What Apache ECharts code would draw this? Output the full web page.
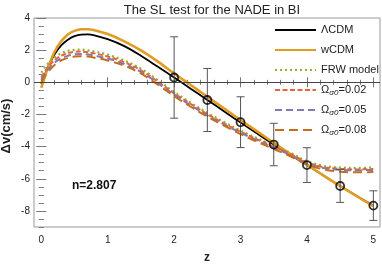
<!DOCTYPE html>
<html><head><meta charset="utf-8">
<script src="https://cdn.jsdelivr.net/npm/echarts@6/dist/echarts.min.js"></script>
<style>html,body{margin:0;padding:0;background:#fff}#c{width:382px;height:269px}</style>
</head><body><div id="c"></div>
<script>
const zCurve = [0, 0.05, 0.1, 0.2, 0.3, 0.4, 0.5, 0.6, 0.7, 0.8, 1.0, 1.25, 1.5, 1.75, 2.0, 2.25, 2.5, 2.75, 3.0, 3.25, 3.5, 3.75, 4.0, 4.25, 4.5, 4.75, 5.0];
const lcdm = [-0.1, 0.45, 0.95, 1.75, 2.3, 2.65, 2.87, 2.97, 2.98, 2.92, 2.68, 2.25, 1.65, 0.98, 0.3, -0.4, -1.1, -1.8, -2.5, -3.18, -3.87, -4.52, -5.15, -5.8, -6.45, -7.07, -7.67];
const wcdm = [-0.35, 0.3, 0.9, 1.9, 2.55, 2.98, 3.2, 3.3, 3.3, 3.24, 3.0, 2.55, 1.98, 1.3, 0.55, -0.17, -0.9, -1.62, -2.35, -3.05, -3.77, -4.46, -5.12, -5.8, -6.45, -7.08, -7.7];
const frw = [0.6, 0.9, 1.15, 1.55, 1.8, 1.96, 2.02, 2.03, 1.99, 1.92, 1.72, 1.36, 0.85, 0.15, -0.6, -1.27, -1.9, -2.47, -3.0, -3.48, -3.93, -4.38, -4.9, -5.2, -5.3, -5.33, -5.3];
const om002 = [0.3, 0.65, 0.95, 1.38, 1.65, 1.82, 1.9, 1.91, 1.87, 1.8, 1.6, 1.25, 0.75, 0.05, -0.68, -1.35, -1.98, -2.55, -3.07, -3.55, -4.0, -4.45, -4.97, -5.28, -5.38, -5.42, -5.4];
const om005 = [0.15, 0.5, 0.8, 1.22, 1.5, 1.65, 1.74, 1.76, 1.73, 1.66, 1.48, 1.14, 0.65, -0.04, -0.77, -1.44, -2.06, -2.62, -3.14, -3.62, -4.07, -4.52, -5.02, -5.33, -5.44, -5.47, -5.45];
const om008 = [0.0, 0.35, 0.65, 1.08, 1.36, 1.52, 1.6, 1.62, 1.6, 1.53, 1.36, 1.03, 0.55, -0.13, -0.86, -1.52, -2.14, -2.7, -3.22, -3.7, -4.15, -4.6, -5.1, -5.42, -5.56, -5.6, -5.58];
const zData = [2, 2.5, 3, 3.5, 4, 4.5, 5];
const dvData = [0.3, -1.1, -2.48, -3.87, -5.15, -6.45, -7.67];
const errData = [2.53, 1.96, 1.58, 1.32, 1.08, 1.02, 0.92];
const xMajor = [0, 1, 2, 3, 4, 5];
const yMajor = [-8, -6, -4, -2, 0, 2, 4];
const xMinor = []; for (let i = 0; i <= 25; i++) xMinor.push(+(i * 0.2).toFixed(2));
const yMinor = []; for (let i = 0; i <= 26; i++) yMinor.push(-9 + i * 0.5);
const FONT = '"Liberation Sans", Arial, sans-serif';

const pair = (ys) => zCurve.map((z, i) => [z, ys[i]]);
const XMIN = -0.11, XMAX = 5.1, YMIN = -9, YMAX = 4;

function xAx(pos, vals, len, labels) {
  return { type: 'value', min: XMIN, max: XMAX, position: pos,
    axisLine: { show: false }, splitLine: { show: false },
    axisTick: { show: true, inside: true, length: len, customValues: vals, lineStyle: { color: '#777', width: 1 } },
    axisLabel: labels ? { show: true, customValues: vals, fontSize: 10, color: '#222', fontFamily: FONT, margin: 8 } : { show: false },
    name: labels ? 'z' : '', nameLocation: 'middle', nameGap: 25,
    nameTextStyle: { fontSize: 12, fontWeight: 'bold', color: '#222', fontFamily: FONT } };
}
function yAx(pos, vals, len, labels) {
  return { type: 'value', min: YMIN, max: YMAX, position: pos,
    axisLine: { show: false }, splitLine: { show: false },
    axisTick: { show: true, inside: true, length: len, customValues: vals, lineStyle: { color: '#777', width: 1 } },
    axisLabel: labels ? { show: true, customValues: vals, fontSize: 10, color: '#222', fontFamily: FONT, margin: 4 } : { show: false } };
}

function lineSeries(name, ys, color, width, type) {
  return { name, type: 'line', data: pair(ys), xAxisIndex: 0, yAxisIndex: 0,
    symbol: 'none', smooth: 0.35, lineStyle: { color, width, type }, itemStyle: { color }, z: 3 };
}

const chart = echarts.init(document.getElementById('c'), null, { renderer: 'canvas' });
chart.setOption({
  animation: false,
  title: { text: 'The SL test for the NADE in BI', left: 207, textAlign: 'center', top: -1,
    textStyle: { fontSize: 13, fontWeight: 'normal', color: '#222', fontFamily: FONT } },
  grid: { left: 34, right: 2, top: 18, bottom: 37, show: true, borderColor: '#999', borderWidth: 1 },
  xAxis: [xAx('bottom', xMajor, 5, true), xAx('bottom', xMinor, 2.5, false), xAx('top', xMajor, 5, false), xAx('top', xMinor, 2.5, false)],
  yAxis: [yAx('left', yMajor, 5, true), yAx('left', yMinor, 2.5, false), yAx('right', yMajor, 5, false), yAx('right', yMinor, 2.5, false)],
  legend: {
    orient: 'vertical', left: 269, top: 15, itemWidth: 41, itemHeight: 20, itemGap: 0,
    itemStyle: { opacity: 0 },
    data: ['ΛCDM', 'wCDM', 'FRW model', 'Ω_σ0=0.02', 'Ω_σ0=0.05', 'Ω_σ0=0.08'],
    formatter: (n) => n.indexOf('Ω_σ0') === 0 ? 'Ω{s|σ0}' + n.slice(4) : n,
    textStyle: { fontSize: 11, color: '#222', fontFamily: FONT, lineHeight: 20, height: 20,
      rich: { s: { fontSize: 8, fontStyle: 'italic', color: '#222', fontFamily: FONT, padding: [6, 0, 0, 0] } } }
  },
  graphic: [
    { type: 'text', left: 72, top: 180, style: { text: 'n=2.807', font: 'bold 12px ' + FONT, fill: '#111' } },
    { type: 'text', x: 0, y: 126, rotation: Math.PI / 2, style: { text: 'Δv(cm/s)', font: 'bold 13px ' + FONT, fill: '#222', align: 'center', verticalAlign: 'top' } }
  ],
  series: [
    { type: 'line', data: [], xAxisIndex: 0, yAxisIndex: 0, silent: true,
      markLine: { silent: true, symbol: 'none', label: { show: false }, lineStyle: { color: '#444', width: 1, type: 'solid' }, data: [{ yAxis: 0 }] } },
    lineSeries('ΛCDM', lcdm, '#000000', 1.8, 'solid'),
    lineSeries('wCDM', wcdm, '#E19C24', 2.6, 'solid'),
    lineSeries('FRW model', frw, '#8FB032', 2.2, [2, 3]),
    lineSeries('Ω_σ0=0.02', om002, '#EB6235', 2, [5, 2.5]),
    lineSeries('Ω_σ0=0.05', om005, '#8778B3', 2, [7, 4]),
    lineSeries('Ω_σ0=0.08', om008, '#C56E1A', 2, [9, 5]),
    { type: 'custom', xAxisIndex: 0, yAxisIndex: 0, z: 5,
      data: zData.map((z, i) => [z, dvData[i] - errData[i], dvData[i] + errData[i]]),
      renderItem: (params, api) => {
        const lo = api.coord([api.value(0), api.value(1)]);
        const hi = api.coord([api.value(0), api.value(2)]);
        const st = { stroke: '#555', lineWidth: 1 };
        return { type: 'group', children: [
          { type: 'line', shape: { x1: lo[0], y1: lo[1], x2: hi[0], y2: hi[1] }, style: st },
          { type: 'line', shape: { x1: lo[0] - 4, y1: lo[1], x2: lo[0] + 4, y2: lo[1] }, style: st },
          { type: 'line', shape: { x1: hi[0] - 4, y1: hi[1], x2: hi[0] + 4, y2: hi[1] }, style: st }
        ] };
      } },
    { type: 'scatter', xAxisIndex: 0, yAxisIndex: 0, z: 6, symbol: 'circle', symbolSize: 8,
      data: zData.map((z, i) => [z, dvData[i]]),
      itemStyle: { color: 'rgba(0,0,0,0)', borderColor: '#000', borderWidth: 1.8 } }
  ]
});
</script></body></html>
